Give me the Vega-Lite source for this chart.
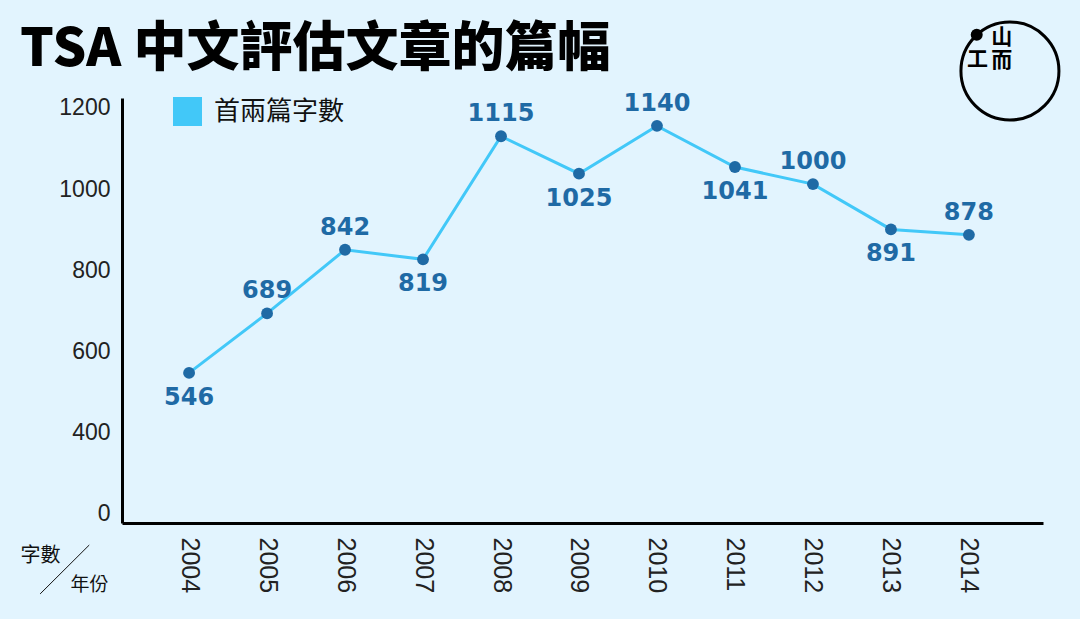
{
  "$schema": "https://vega.github.io/schema/vega-lite/v6.json",
  "autosize": "none",
  "width": 921,
  "height": 425,
  "padding": {"left": 122, "top": 98, "right": 37, "bottom": 96},
  "background": "#e2f4fe",
  "title": {
    "text": "TSA 中文評估文章的篇幅",
    "anchor": "start",
    "frame": "group",
    "font": "Noto Sans CJK TC",
    "fontWeight": 900,
    "fontSize": 53,
    "color": "#000000",
    "dx": -102,
    "offset": -61
  },
  "config": {"view": {"stroke": null}},
  "datasets": {
    "words": [
      {"year": 2004, "value": 546},
      {"year": 2005, "value": 689},
      {"year": 2006, "value": 842},
      {"year": 2007, "value": 819},
      {"year": 2008, "value": 1115},
      {"year": 2009, "value": 1025},
      {"year": 2010, "value": 1140},
      {"year": 2011, "value": 1041},
      {"year": 2012, "value": 1000},
      {"year": 2013, "value": 891},
      {"year": 2014, "value": 878}
    ],
    "logo": [
      {"year": 2014.526, "value": 1272, "part": "ring"},
      {"year": 2014.1, "value": 1359, "part": "dot"}
    ],
    "glyphs": [
      {"year": 2014.11, "value": 1299, "glyph": "工"},
      {"year": 2014.42, "value": 1352, "glyph": "山"},
      {"year": 2014.42, "value": 1297, "glyph": "而"}
    ],
    "slash": [{"year": 2002.09, "year2": 2002.72, "value": 14.4, "value2": 132}]
  },
  "data": {"name": "words"},
  "layer": [
    {
      "mark": {"type": "point", "opacity": 0},
      "encoding": {
        "x": {
          "field": "year",
          "type": "quantitative",
          "scale": {"domain": [2003.14, 2014.95], "nice": false},
          "axis": {
            "values": [2004, 2005, 2006, 2007, 2008, 2009, 2010, 2011, 2012, 2013, 2014],
            "format": "d",
            "grid": false,
            "ticks": false,
            "domainColor": "#000000",
            "domainWidth": 3,
            "labelAngle": 90,
            "labelAlign": "left",
            "labelBaseline": "middle",
            "labelFont": "Liberation Sans",
            "labelFontSize": 25,
            "labelColor": "#222222",
            "labelPadding": 14,
            "labelFlush": false,
            "labelOverlap": false,
            "title": "年份",
            "titleFont": "Noto Sans CJK TC",
            "titleFontSize": 19,
            "titleFontWeight": 400,
            "titleColor": "#111111",
            "titleAlign": "left",
            "titleBaseline": "middle",
            "titleX": -52,
            "titleY": 61
          }
        },
        "y": {
          "field": "value",
          "type": "quantitative",
          "scale": {"domain": [177.8, 1224.6], "nice": false, "zero": false},
          "axis": {
            "values": [200, 400, 600, 800, 1000, 1200],
            "labelExpr": "datum.value == 200 ? '0' : datum.value",
            "grid": false,
            "ticks": false,
            "domainColor": "#000000",
            "domainWidth": 3,
            "labelFont": "Liberation Sans",
            "labelFontSize": 23,
            "labelColor": "#222222",
            "labelPadding": 12,
            "title": "字數",
            "titleFont": "Noto Sans CJK TC",
            "titleFontSize": 20,
            "titleFontWeight": 400,
            "titleColor": "#111111",
            "titleAngle": 0,
            "titleAlign": "left",
            "titleBaseline": "middle",
            "titleX": -102,
            "titleY": 457
          }
        }
      }
    },
    {
      "encoding": {
        "x": {"field": "year", "type": "quantitative"},
        "y": {
          "field": "value",
          "type": "quantitative",
          "scale": {"domain": [185, 1207], "nice": false, "zero": false},
          "axis": null
        }
      },
      "layer": [
        {
          "mark": {"type": "line", "strokeWidth": 3},
          "encoding": {
            "color": {
              "datum": "首兩篇字數",
              "scale": {"range": ["#42c8f8"]},
              "legend": {
                "title": null,
                "orient": "none",
                "legendX": 51,
                "legendY": -1,
                "symbolType": "square",
                "symbolSize": 841,
                "symbolFillColor": "#42c8f8",
                "symbolStrokeWidth": 0,
                "labelFont": "Noto Sans CJK TC",
                "labelFontSize": 26,
                "labelColor": "#111111",
                "labelOffset": 12,
                "labelLimit": 200
              }
            }
          }
        },
        {
          "mark": {"type": "circle", "size": 140, "opacity": 1, "color": "#1f6aa5"}
        },
        {
          "transform": [{"filter": "indexof([2005, 2006, 2008, 2010, 2012, 2014], datum.year) >= 0"}],
          "mark": {"type": "text", "font": "DejaVu Sans", "fontWeight": "bold", "fontSize": 24, "color": "#1f6aa5", "dy": -22},
          "encoding": {
            "text": {"field": "value", "type": "quantitative", "format": "d"}
          }
        },
        {
          "transform": [{"filter": "indexof([2004, 2007, 2009, 2011, 2013], datum.year) >= 0"}],
          "mark": {"type": "text", "font": "DejaVu Sans", "fontWeight": "bold", "fontSize": 24, "color": "#1f6aa5", "dy": 25},
          "encoding": {
            "text": {"field": "value", "type": "quantitative", "format": "d"}
          }
        },
        {
          "data": {"name": "logo"},
          "transform": [{"filter": "datum.part == 'ring'"}],
          "mark": {"type": "point", "shape": "circle", "size": 9604, "filled": false, "stroke": "#000000", "strokeWidth": 3, "opacity": 1}
        },
        {
          "data": {"name": "logo"},
          "transform": [{"filter": "datum.part == 'dot'"}],
          "mark": {"type": "circle", "size": 144, "color": "#000000", "opacity": 1}
        },
        {
          "data": {"name": "glyphs"},
          "mark": {"type": "text", "font": "Noto Sans CJK TC", "fontWeight": "bold", "fontSize": 21, "color": "#000000"},
          "encoding": {
            "text": {"field": "glyph"}
          }
        },
        {
          "data": {"name": "slash"},
          "mark": {"type": "rule", "color": "#111111", "strokeWidth": 1},
          "encoding": {
            "x2": {"field": "year2"},
            "y2": {"field": "value2"}
          }
        }
      ]
    }
  ],
  "resolve": {"scale": {"y": "independent"}, "axis": {"y": "independent"}}
}
